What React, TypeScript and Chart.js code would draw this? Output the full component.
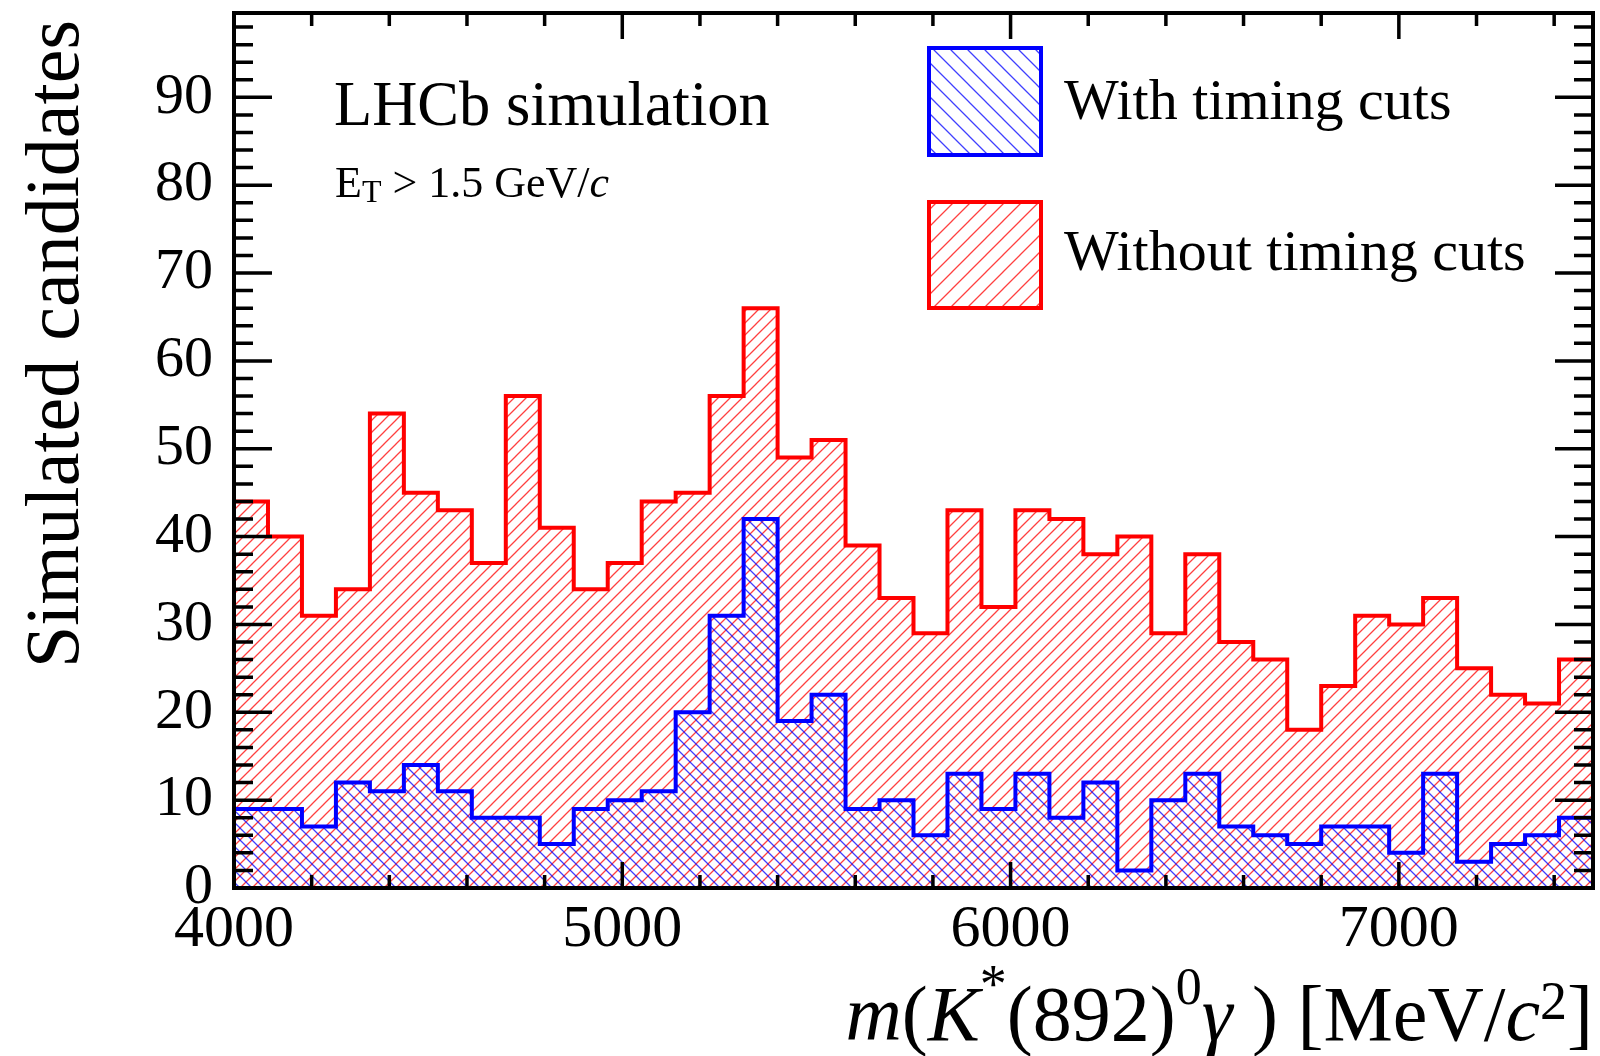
import React, { useEffect, useRef } from 'react';
import { Chart, registerables } from 'chart.js';

Chart.register(...registerables);

// ---- data ----
const X_MIN = 4000;
const X_MAX = 7500;
const Y_MIN = 0;
const Y_MAX = 99.6;

const withTimingCuts = [9, 9, 7, 12, 11, 14, 11, 8, 8, 5, 9, 10, 11, 20, 31, 42, 19, 22, 9, 10, 6, 13, 9, 13, 8, 12, 2, 10, 13, 7, 6, 5, 7, 7, 4, 13, 3, 5, 6, 8];
const withoutTimingCuts = [44, 40, 31, 34, 54, 45, 43, 37, 56, 41, 34, 37, 44, 45, 56, 66, 49, 51, 39, 33, 29, 43, 32, 43, 42, 38, 40, 29, 38, 28, 26, 18, 23, 31, 30, 33, 25, 22, 21, 26];

const seriesLabels = ['With timing cuts', 'Without timing cuts'];
const xTickLabels = [4000, 5000, 6000, 7000];
const yTickLabels = [0, 10, 20, 30, 40, 50, 60, 70, 80, 90];
const X_MINOR_STEP = 200;
const Y_MINOR_STEP = 2;

const FONT = '"Liberation Serif", "Times New Roman", serif';

function stepPoints(values: number[]) {
  const w = (X_MAX - X_MIN) / values.length;
  const pts: { x: number; y: number }[] = [{ x: X_MIN, y: 0 }];
  values.forEach((v, i) => pts.push({ x: X_MIN + i * w, y: v }));
  pts.push({ x: X_MAX, y: values[values.length - 1] });
  pts.push({ x: X_MAX, y: 0 });
  return pts;
}

function makeHatch(ctx: CanvasRenderingContext2D, color: string, dir: 'fwd' | 'back', s = 12, lw = 1.3) {
  const c = document.createElement('canvas');
  c.width = s;
  c.height = s;
  const g = c.getContext('2d')!;
  g.strokeStyle = color;
  g.lineWidth = lw;
  g.beginPath();
  if (dir === 'fwd') {
    g.moveTo(-1, s + 1); g.lineTo(s + 1, -1);
    g.moveTo(-2, 2); g.lineTo(2, -2);
    g.moveTo(s - 2, s + 2); g.lineTo(s + 2, s - 2);
  } else {
    g.moveTo(-1, -1); g.lineTo(s + 1, s + 1);
    g.moveTo(-2, s - 2); g.lineTo(2, s + 2);
    g.moveTo(s - 2, -2); g.lineTo(s + 2, 2);
  }
  g.stroke();
  return ctx.createPattern(c, 'repeat')!;
}

type Seg = { t: string; size: number; italic?: boolean; dy?: number };

function fontOf(size: number, italic?: boolean) {
  return `${italic ? 'italic ' : ''}${size}px ${FONT}`;
}

function drawRich(ctx: CanvasRenderingContext2D, segs: Seg[], x: number, y: number, align: 'left' | 'right') {
  const widths = segs.map((s) => {
    ctx.font = fontOf(s.size, s.italic);
    return ctx.measureText(s.t).width;
  });
  const total = widths.reduce((a, b) => a + b, 0);
  let cx = align === 'right' ? x - total : x;
  segs.forEach((s, i) => {
    ctx.font = fontOf(s.size, s.italic);
    ctx.fillText(s.t, cx, y + (s.dy || 0));
    cx += widths[i];
  });
}

export default function App() {
  const ref = useRef<HTMLCanvasElement>(null);

  useEffect(() => {
    document.body.style.margin = '0';
    const canvas = ref.current!;
    const ctx = canvas.getContext('2d')!;
    const redHatch = makeHatch(ctx, 'rgba(255,0,0,0.75)', 'fwd');
    const blueHatch = makeHatch(ctx, 'rgba(0,0,255,0.75)', 'back');
    const redHatchLegend = makeHatch(ctx, 'rgba(255,0,0,0.75)', 'fwd', 17, 1.3);
    const blueHatchLegend = makeHatch(ctx, 'rgba(0,0,255,0.75)', 'back', 17, 1.3);

    const decor = {
      id: 'rootDecor',
      afterDraw(chart: any) {
        const c: CanvasRenderingContext2D = chart.ctx;
        const { left, right, top, bottom } = chart.chartArea;
        const xs = chart.scales.x;
        const ys = chart.scales.y;
        c.save();
        // ticks
        c.strokeStyle = '#000';
        c.lineWidth = 3.5;
        c.lineCap = 'butt';
        c.beginPath();
        for (let v = X_MIN; v <= X_MAX + 1e-6; v += X_MINOR_STEP) {
          const L = xTickLabels.includes(v) ? 26 : 13;
          const px = xs.getPixelForValue(v);
          c.moveTo(px, bottom); c.lineTo(px, bottom - L);
          c.moveTo(px, top); c.lineTo(px, top + L);
        }
        for (let v = Y_MIN; v <= Y_MAX + 1e-6; v += Y_MINOR_STEP) {
          const L = yTickLabels.includes(v) ? 38 : 19;
          const py = ys.getPixelForValue(v);
          c.moveTo(left, py); c.lineTo(left + L, py);
          c.moveTo(right, py); c.lineTo(right - L, py);
        }
        c.stroke();
        // frame
        c.lineWidth = 4;
        c.lineJoin = 'miter';
        c.strokeRect(left, top, right - left, bottom - top);

        c.fillStyle = '#000';
        c.textAlign = 'left';
        c.textBaseline = 'alphabetic';
        // LHCb label
        c.font = fontOf(62.5);
        c.fillText('LHCb simulation', 334, 125);
        drawRich(c, [
          { t: 'E', size: 44 },
          { t: 'T', size: 32, dy: 5 },
          { t: ' > 1.5 GeV/', size: 44 },
          { t: 'c', size: 44, italic: true },
        ], 335, 197, 'left');

        // legend
        const boxes = [
          { y0: 48, y1: 155, pat: blueHatchLegend, col: '#0000ff', label: seriesLabels[0], base: 119 },
          { y0: 202, y1: 308, pat: redHatchLegend, col: '#ff0000', label: seriesLabels[1], base: 270 },
        ];
        boxes.forEach((b) => {
          c.fillStyle = '#fff';
          c.fillRect(929, b.y0, 112, b.y1 - b.y0);
          c.fillStyle = b.pat;
          c.fillRect(929, b.y0, 112, b.y1 - b.y0);
          c.strokeStyle = b.col;
          c.lineWidth = 4;
          c.strokeRect(929, b.y0, 112, b.y1 - b.y0);
          c.fillStyle = '#000';
          c.font = fontOf(58);
          c.fillText(b.label, 1064, b.base);
        });

        // y title
        c.save();
        c.translate(78, 20);
        c.rotate(-Math.PI / 2);
        c.textAlign = 'right';
        c.font = fontOf(76);
        c.fillStyle = '#000';
        c.fillText('Simulated candidates', 0, 0);
        c.restore();

        // x title
        c.fillStyle = '#000';
        c.textAlign = 'left';
        drawRich(c, [
          { t: 'm', size: 78, italic: true },
          { t: '(', size: 78 },
          { t: 'K', size: 78, italic: true },
          { t: '*', size: 54, dy: -38 },
          { t: '(892)', size: 78 },
          { t: '0', size: 52, dy: -36 },
          { t: 'γ', size: 78, italic: true },
          { t: ' )', size: 78 },
          { t: ' [MeV/', size: 78 },
          { t: 'c', size: 78, italic: true },
          { t: '2', size: 54, dy: -21 },
          { t: ']', size: 78 },
        ], 1593, 1040, 'right');
        c.restore();
      },
    };

    const chart = new Chart(canvas, {
      type: 'line',
      data: {
        datasets: [
          {
            label: seriesLabels[0],
            data: stepPoints(withTimingCuts),
            stepped: 'before',
            borderColor: '#0000ff',
            borderWidth: 4,
            backgroundColor: blueHatch,
            fill: 'origin',
            pointRadius: 0,
            borderJoinStyle: 'miter',
          },
          {
            label: seriesLabels[1],
            data: stepPoints(withoutTimingCuts),
            stepped: 'before',
            borderColor: '#ff0000',
            borderWidth: 4,
            backgroundColor: redHatch,
            fill: 'origin',
            pointRadius: 0,
            borderJoinStyle: 'miter',
          },
        ],
      } as any,
      options: {
        responsive: false,
        animation: false,
        events: [],
        layout: { padding: { top: 13, right: 7, left: 0, bottom: 0 } },
        plugins: { legend: { display: false }, tooltip: { enabled: false } },
        scales: {
          x: {
            type: 'linear',
            position: 'bottom',
            min: X_MIN,
            max: X_MAX,
            grid: { display: false, drawTicks: false },
            border: { display: false },
            ticks: {
              color: '#000',
              font: { family: FONT, size: 60 },
              padding: 6,
              maxRotation: 0,
              autoSkip: false,
              callback: (v: any) => String(v),
            },
            afterBuildTicks: (s: any) => { s.ticks = xTickLabels.map((v) => ({ value: v })); },
            afterFit: (s: any) => { s.height = 168; s.paddingLeft = 0; s.paddingRight = 0; },
          },
          y: {
            type: 'linear',
            min: Y_MIN,
            max: Y_MAX,
            grid: { display: false, drawTicks: false },
            border: { display: false },
            ticks: {
              color: '#000',
              font: { family: FONT, size: 58 },
              padding: 21,
              autoSkip: false,
              callback: (v: any) => String(v),
            },
            afterBuildTicks: (s: any) => { s.ticks = yTickLabels.map((v) => ({ value: v })); },
            afterFit: (s: any) => { s.width = 234; s.paddingTop = 0; s.paddingBottom = 0; },
          },
        },
      } as any,
      plugins: [decor],
    });

    return () => chart.destroy();
  }, []);

  return (
    <div style={{ width: 1600, height: 1056 }}>
      <canvas ref={ref} width={1600} height={1056} style={{ display: 'block' }} />
    </div>
  );
}
